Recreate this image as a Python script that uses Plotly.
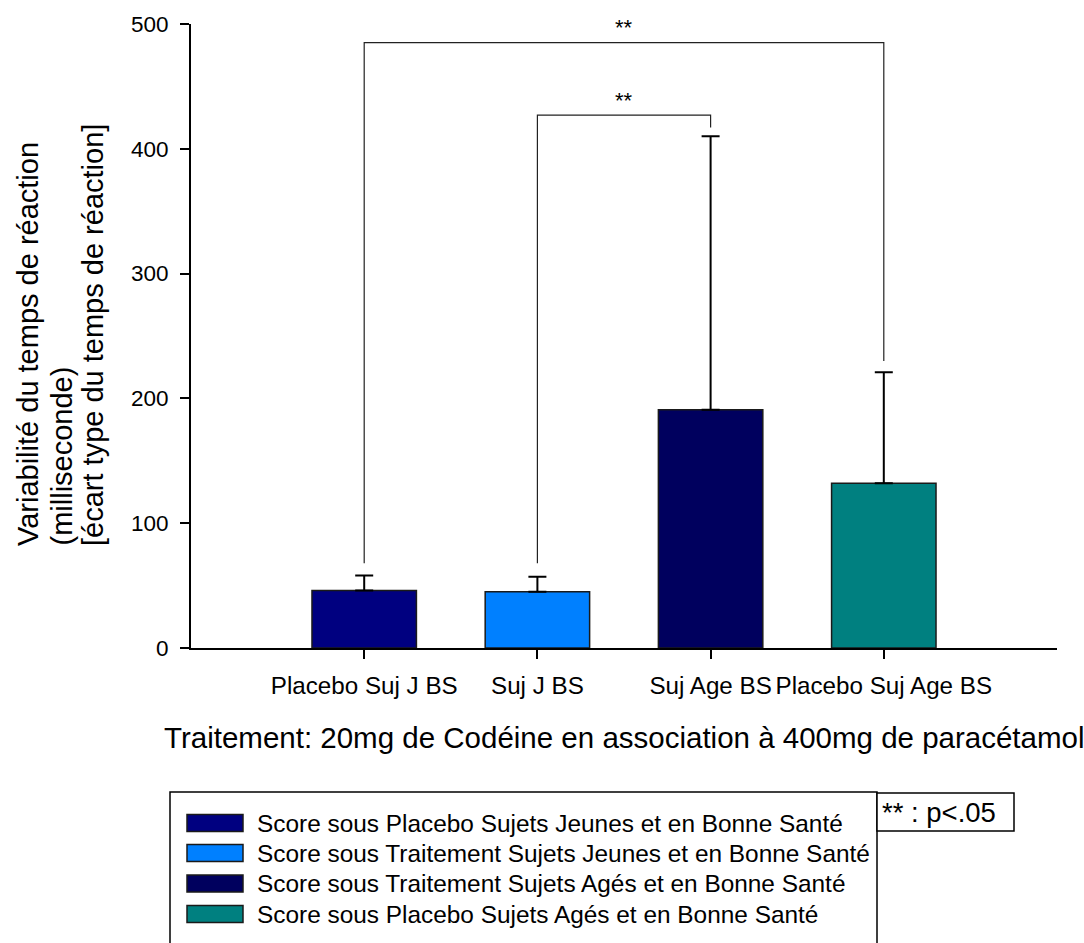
import plotly.graph_objects as go

categories = ["Placebo Suj J BS", "Suj J BS", "Suj Age BS", "Placebo Suj Age BS"]
means = [46, 45, 191, 132]
err_upper = [12, 12, 219, 89]
colors = ["#000080", "#0080FF", "#00005E", "#008080"]
legend_names = [
    "Score sous Placebo Sujets Jeunes et en Bonne Santé",
    "Score sous Traitement Sujets Jeunes et en Bonne Santé",
    "Score sous Traitement Sujets Agés et en Bonne Santé",
    "Score sous Placebo Sujets Agés et en Bonne Santé",
]
y_ticks = [0, 100, 200, 300, 400, 500]
y_title_lines = ["Variabilité du temps de réaction", "(milliseconde)",
                 "[écart type du temps de réaction]"]
x_title = "Traitement: 20mg de Codéine en association à 400mg de paracétamol"
# significance brackets: (left bar, right bar, top level, left end, right end)
brackets = [(0, 3, 485, 68, 230), (1, 2, 427, 68, 417)]
sig_label = "**"

FONT = "Liberation Sans, Arial, sans-serif"
W, H = 1084, 943
# plot area in page pixels
PL, PR, PT, PB = 191, 1057, 24, 648
PW, PH = PR - PL, PB - PT


def px(x):
    return (x - PL) / PW


def py(y):
    return (PB - y) / PH


xs = list(range(len(categories)))

fig = go.Figure()
fig.add_trace(go.Bar(
    x=xs, y=means, width=0.603,
    marker=dict(color=colors, line=dict(color="#1a1a1a", width=1.5)),
    error_y=dict(type="data", symmetric=False, array=err_upper,
                 arrayminus=[0] * len(means), color="black", thickness=2, width=9),
    showlegend=False,
))

shapes = []
annotations = []
for (a, b, top, lend, rend) in brackets:
    shapes.append(dict(type="path", xref="x", yref="y",
                       path=f"M {a},{lend} L {a},{top} L {b},{top} L {b},{rend}",
                       line=dict(color="#222222", width=1.2)))
    annotations.append(dict(x=(a + b) / 2, y=top + 12, xref="x", yref="y",
                            text=sig_label, showarrow=False,
                            font=dict(family=FONT, size=22, color="black"),
                            yanchor="middle"))

# y-axis title (three left-aligned rotated lines)
for line, cx in zip(y_title_lines, [28, 61, 93]):
    annotations.append(dict(
        x=px(cx), y=py(548), xref="paper", yref="paper",
        text=line, textangle=-90, showarrow=False,
        xanchor="center", yanchor="bottom",
        font=dict(family=FONT, size=29, color="black")))

# x-axis title
annotations.append(dict(
    x=px(624), y=py(737), xref="paper", yref="paper",
    text=x_title, showarrow=False, xanchor="center", yanchor="middle",
    font=dict(family=FONT, size=29.5, color="black")))

# custom legend
shapes.append(dict(type="rect", xref="paper", yref="paper",
                   x0=px(170), x1=px(877), y0=py(970), y1=py(792),
                   line=dict(color="black", width=1.5), fillcolor="white"))
row_centers = [823, 853, 883.5, 914]
for name, col, rc in zip(legend_names, colors, row_centers):
    shapes.append(dict(type="rect", xref="paper", yref="paper",
                       x0=px(187), x1=px(243), y0=py(rc + 8.5), y1=py(rc - 8.5),
                       line=dict(color="#1a1a1a", width=1.5), fillcolor=col))
    annotations.append(dict(x=px(255), y=py(rc), xref="paper", yref="paper",
                            text=name, showarrow=False, xanchor="left", yanchor="middle",
                            font=dict(family=FONT, size=24.4, color="black")))

shapes.append(dict(type="rect", xref="paper", yref="paper",
                   x0=px(877), x1=px(1014), y0=py(831), y1=py(793),
                   line=dict(color="black", width=1.5), fillcolor="white"))
annotations.append(dict(x=px(880), y=py(812), xref="paper", yref="paper",
                        text="** : p<.05", showarrow=False, xanchor="left", yanchor="middle",
                        font=dict(family=FONT, size=27.5, color="black")))

fig.update_layout(
    width=W, height=H,
    margin=dict(l=PL, r=W - PR, t=PT, b=H - PB, pad=0),
    paper_bgcolor="white", plot_bgcolor="white",
    font=dict(family=FONT, size=22, color="black"),
    shapes=shapes, annotations=annotations,
    xaxis=dict(range=[-1, 4], tickvals=xs, ticktext=categories,
               showline=True, linecolor="black", linewidth=2,
               ticks="outside", ticklen=9, tickwidth=1.5, tickcolor="black",
               showgrid=False, zeroline=False, ticklabelstandoff=6,
               tickfont=dict(family=FONT, size=24.2, color="black")),
    yaxis=dict(range=[0, 500], tickvals=y_ticks,
               showline=True, linecolor="black", linewidth=2,
               ticks="outside", ticklen=9, tickwidth=1.5, tickcolor="black",
               showgrid=False, zeroline=False, ticklabelstandoff=7,
               tickfont=dict(family=FONT, size=22.5, color="black")),
)

fig.write_html(
    "out.html",
    config={"displayModeBar": False},
    post_script="document.body.style.margin='0';document.body.style.overflow='hidden';",
)
